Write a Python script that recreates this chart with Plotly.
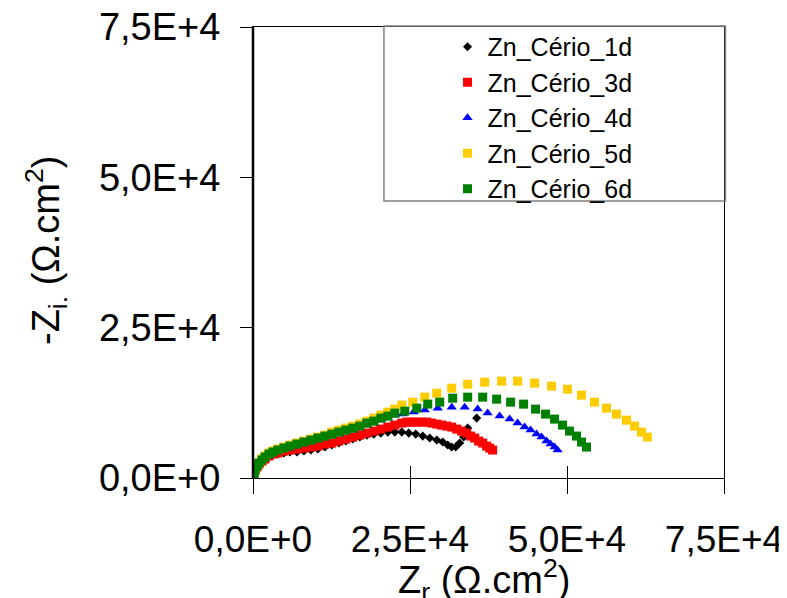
import plotly.graph_objects as go

# ---------------- data (Nyquist plots, Ω.cm²) ----------------
series_names = ["Zn_Cério_1d", "Zn_Cério_3d", "Zn_Cério_4d", "Zn_Cério_5d", "Zn_Cério_6d"]

zr_1d = [0, 159, 318, 636, 954, 1431, 1908, 2544, 3180, 3975, 4929, 5883, 6996, 8109, 9222, 10335,
         11448, 12561, 13674, 14787, 15900, 17013, 18126, 19239, 20352, 21465, 22578, 23691, 24804,
         25917, 27030, 28143, 29256, 30210, 31005, 31641, 32277, 32913, 33549, 34185, 35616]
zi_1d = [0, 664, 1328, 1826, 2324, 2822, 3154, 3486, 3818, 3984, 4150, 4316, 4316, 4482, 4648, 4814,
         5146, 5478, 5810, 6142, 6474, 6806, 7138, 7304, 7470, 7636, 7636, 7636, 7470,
         7304, 6972, 6640, 6308, 5976, 5478, 5146, 5146, 5810, 6806, 8300, 9960]

zr_3d = [0, 159, 318, 636, 954, 1431, 1908, 2544, 3180, 3975, 4929, 5883, 6996, 8109, 9222, 10335,
         11448, 12561, 13674, 14787, 15900, 17013, 18126, 19239, 20352, 21465, 22578, 23691, 24486,
         25281, 26076, 26871, 27666, 28461, 29256, 30051, 30846, 31641, 32436, 33231, 34026, 34662,
         35298, 35934, 36570, 37206, 37683, 38160]
zi_3d = [0, 664, 1328, 1826, 2324, 2822, 3154, 3652, 3984, 4150, 4482, 4648, 4814, 4980, 5146, 5312,
         5644, 5810, 6142, 6474, 6806, 7138, 7470, 7802, 8134, 8466, 8798, 9130, 9296,
         9296, 9296, 9296, 9296, 9130, 8964, 8798, 8632, 8466, 8134, 7802, 7470, 6972,
         6640, 6142, 5810, 5312, 4980, 4648]

zr_4d = [0, 159, 318, 636, 954, 1431, 1908, 2544, 3180, 3975, 4929, 5883, 6996, 8109, 9222, 10335,
         11448, 12561, 13674, 14787, 15900, 17013, 18126, 19239, 20352, 21465, 22578, 23850, 25599,
         27348, 29415, 31641, 33708, 35775, 37365, 39273, 40863, 42135, 43248, 44202, 45156, 45951,
         46746, 47382, 48018, 48495]
zi_4d = [0, 664, 1328, 1826, 2324, 2822, 3320, 3818, 4150, 4482, 4814, 4980, 5312, 5644, 5976, 6308,
         6640, 6972, 7304, 7636, 7968, 8300, 8798, 9130, 9628, 9960, 10458, 10624, 10956,
         11288, 11620, 11786, 11786, 11454, 10790, 10292, 9794, 9130, 8466, 7968, 7304, 6806,
         6142, 5644, 5146, 4648]

zr_5d = [0, 159, 318, 636, 954, 1431, 1908, 2544, 3180, 3975, 4929, 5883, 6996, 8109, 9222, 10335,
         11448, 12561, 13674, 14787, 15900, 17013, 18126, 19239, 20352, 21465, 22578, 23691, 25440,
         27348, 29256, 31641, 34185, 36888, 39591, 42135, 44838, 47541, 50085, 52311, 54378, 56286,
         57876, 59466, 60738, 61851, 62805]
zi_5d = [0, 664, 1328, 1992, 2490, 3154, 3652, 4150, 4482, 4814, 5146, 5478, 5810, 6142, 6474, 6806,
         7138, 7636, 7968, 8300, 8632, 8964, 9462, 9960, 10458, 10956, 11454, 12118, 12616,
         13446, 14110, 14940, 15604, 15936, 16102, 16102, 15770, 15272, 14774, 13778, 12616, 11620,
         10624, 9628, 8632, 7636, 6806]

zr_6d = [0, 159, 318, 636, 954, 1431, 1908, 2544, 3180, 3975, 4929, 5883, 6996, 8109, 9222, 10335,
         11448, 12561, 13674, 14787, 15900, 17013, 18126, 19239, 20352, 21465, 22578, 24168, 26076,
         27825, 29733, 31800, 34185, 36570, 38796, 41022, 43089, 44997, 46587, 48018, 49290, 50403,
         51516, 52311, 53106]
zi_6d = [0, 664, 1328, 1992, 2490, 2988, 3486, 3984, 4316, 4648, 4980, 5312, 5644, 5976, 6308, 6640,
         6972, 7304, 7636, 7968, 8300, 8632, 9130, 9462, 9960, 10292, 10790, 11122, 11620,
         12284, 12616, 13280, 13446, 13446, 13114, 12616, 12284, 11454, 10624, 9794, 8798, 7802,
         6972, 5976, 5146]

tick_vals = [0, 25000, 50000, 75000]
tick_text = ["0,0E+0", "2,5E+4", "5,0E+4", "7,5E+4"]
axis_range = [0, 75000]

x_title = "Z<sub>r</sub> (Ω.cm<sup>2</sup>)"
y_title = "-Z<sub>i.</sub> (Ω.cm<sup>2</sup>)"

# ---------------- styles ----------------
FONT = "Liberation Sans, Arial, sans-serif"
colors = ["#000000", "#FF0000", "#0000FF", "#FFCC00", "#008000"]
symbols = ["diamond", "square", "triangle-up", "square", "square"]
sizes = [7, 9, 9, 9, 9]

xs = [zr_1d, zr_3d, zr_4d, zr_5d, zr_6d]
ys = [zi_1d, zi_3d, zi_4d, zi_5d, zi_6d]

fig = go.Figure()
for name, x, y, c, s, sz in zip(series_names, xs, ys, colors, symbols, sizes):
    fig.add_trace(go.Scatter(
        x=x, y=y, mode="markers", name=name,
        marker=dict(color=c, symbol=s, size=sz, line=dict(width=0)),
    ))

# helper (invisible) trace so the overlay axis carrying the inner tick marks is drawn
fig.add_trace(go.Scatter(x=zr_1d[:1], y=zi_1d[:1], xaxis="x2", mode="markers",
                         marker=dict(opacity=0), showlegend=False, hoverinfo="skip"))

# the page body adds an 8 px margin, so the figure is 8 px smaller than the window
fig.update_layout(
    width=779, height=590,
    margin=dict(l=245, r=63, t=19, b=120, autoexpand=False),
    paper_bgcolor="white", plot_bgcolor="white",
    font=dict(family=FONT, color="black"),
    showlegend=True,
    legend=dict(
        x=0.413, xanchor="left", y=1.0067, yanchor="top",
        bgcolor="rgba(0,0,0,0)", borderwidth=0,
        font=dict(family=FONT, size=25, color="black"),
        tracegroupgap=0,
    ),
    xaxis=dict(
        range=axis_range, tickvals=tick_vals, ticktext=tick_text,
        ticks="outside", ticklen=15, tickwidth=1, tickcolor="black",
        showline=True, linecolor="black", linewidth=1, mirror=True,
        showgrid=False, zeroline=False, automargin=False,
        tickfont=dict(family=FONT, size=37, color="black"),
        ticklabelstandoff=14, ticklabeloverflow="allow",
    ),
    xaxis2=dict(
        range=axis_range, tickvals=tick_vals, overlaying="x", side="bottom",
        ticks="inside", ticklen=12, tickwidth=1, tickcolor="black",
        showticklabels=False, showline=False, showgrid=False, zeroline=False,
        automargin=False,
    ),
    yaxis=dict(
        range=axis_range, tickvals=tick_vals, ticktext=tick_text,
        ticks="outside", ticklen=12, tickwidth=1, tickcolor="black",
        showline=True, linecolor="black", linewidth=1, mirror=True,
        showgrid=False, zeroline=False, automargin=False,
        tickfont=dict(family=FONT, size=38, color="black"),
        ticklabelstandoff=12, ticklabeloverflow="allow",
    ),
    annotations=[
        dict(text=x_title, xref="paper", yref="paper", x=0.49, y=-0.226,
             xanchor="center", yanchor="middle", showarrow=False,
             font=dict(family=FONT, size=38, color="black")),
        dict(text=y_title, xref="paper", yref="paper", x=-0.4395, y=0.5055,
             xanchor="center", yanchor="middle", showarrow=False, textangle=-90,
             font=dict(family=FONT, size=38, color="black")),
    ],
    shapes=[
        # legend frame
        dict(type="rect", xref="paper", yref="paper", x0=0.278, x1=1.003, y0=0.614, y1=1.002,
             line=dict(color="#808080", width=1.5), fillcolor="rgba(0,0,0,0)", layer="above"),
        # heavier left (value) axis line
        dict(type="line", xref="paper", yref="paper", x0=0, x1=0, y0=0, y1=1,
             line=dict(color="black", width=2.5), layer="above"),
    ],
)

fig.write_html("out.html")
